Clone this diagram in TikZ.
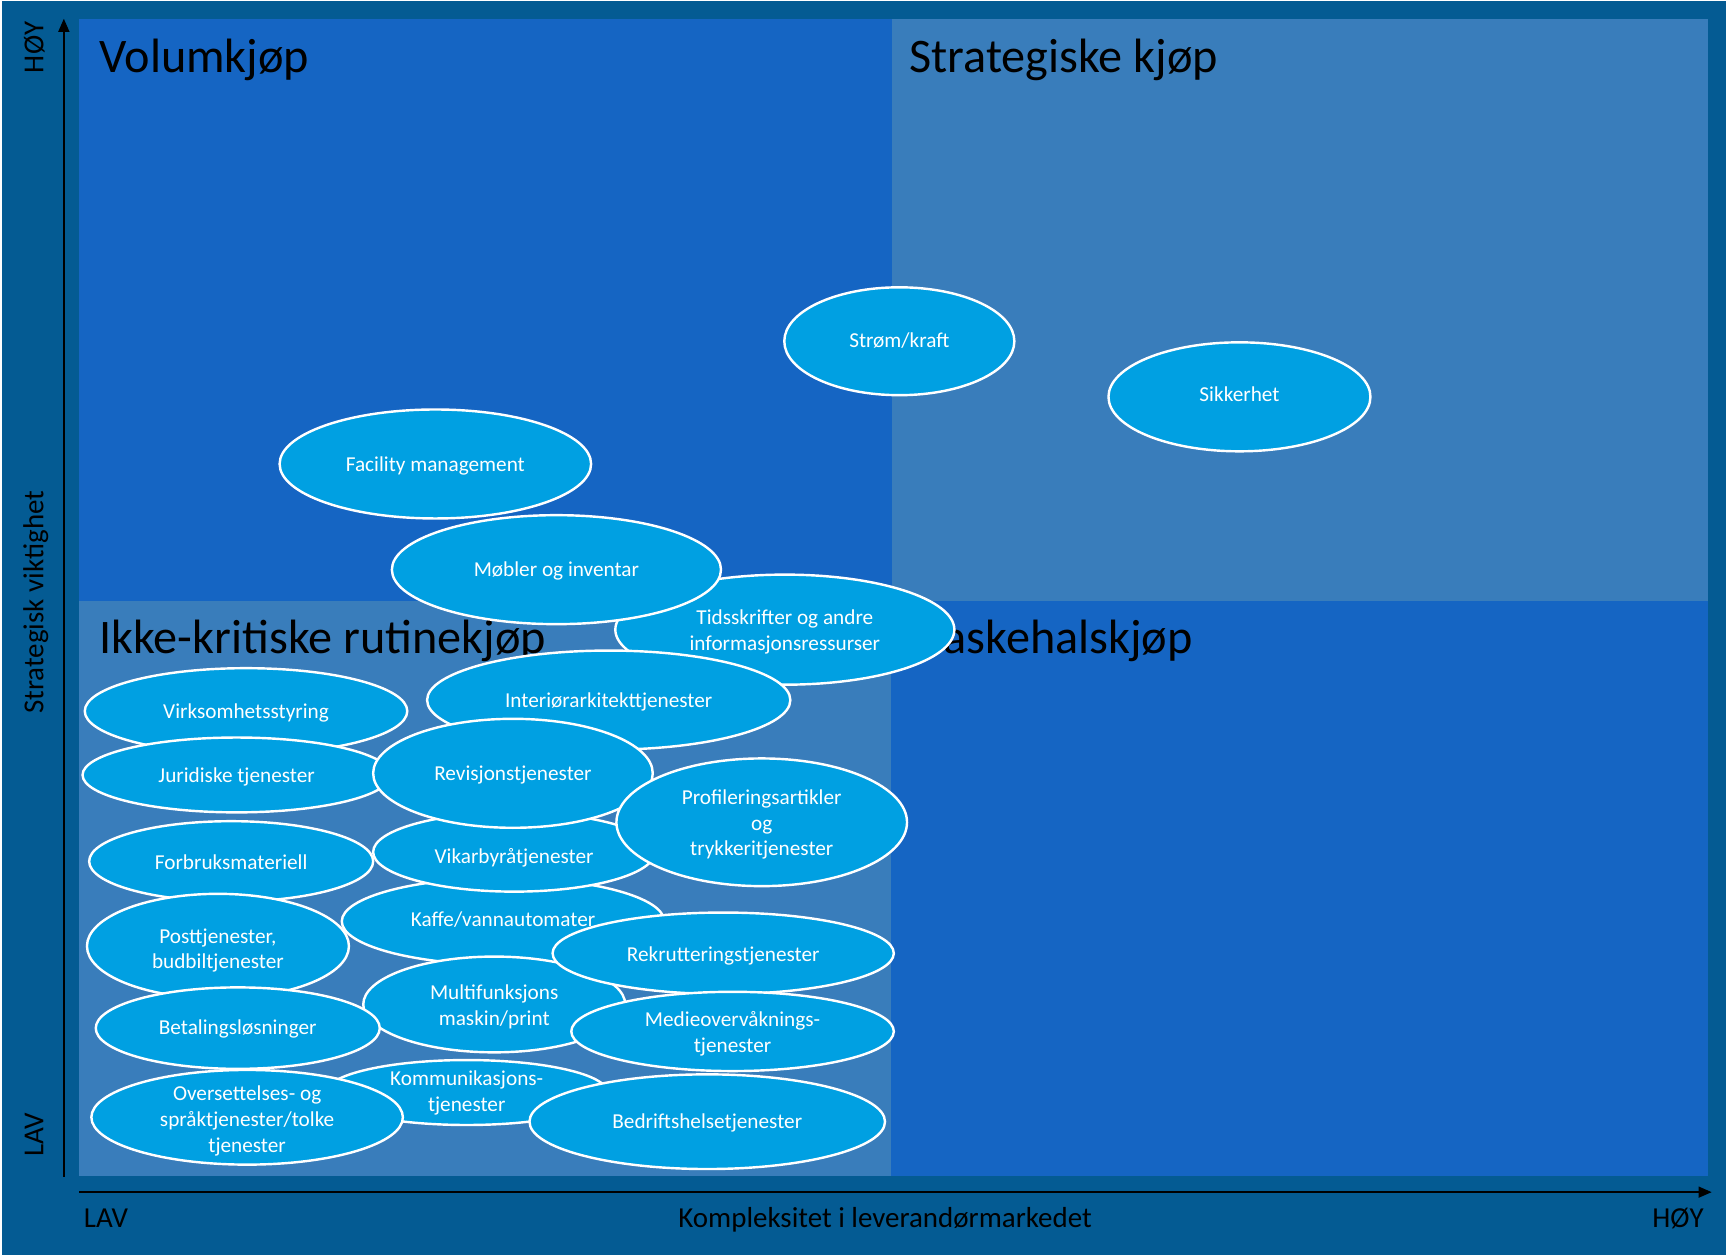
\documentclass[tikz,border=0pt]{standalone}
\usepackage{fontspec}
\setmainfont{Carlito}
\usetikzlibrary{shapes.geometric,arrows.meta}
\definecolor{bgdark}{HTML}{045B93}
\definecolor{qbright}{HTML}{1565C3}
\definecolor{qsteel}{HTML}{397DBB}
\definecolor{bubfill}{HTML}{00A0E2}
\newcommand\bub[7][2]{%
  \node[bubble, minimum width=#5pt, minimum height=#6pt] (#2) at (#3,#4) {};
  \node[btxt, yshift=-#1pt] (#2-t) at (#2.center) {#7};}
\begin{document}
\begin{tikzpicture}[x=1pt,y=-1pt,
  bubble/.style={ellipse, draw=white, line width=2.2pt, fill=bubfill, inner sep=0pt},
  btxt/.style={text=white, font=\fontsize{19.3}{23.5}\selectfont, align=center, inner sep=0pt},
  quad/.style={font=\fontsize{43.8}{50}\selectfont, anchor=base west, inner sep=0pt, text=black},
  axl/.style={font=\fontsize{26.3}{30}\selectfont, inner sep=0pt, text=black, anchor=base},
  axis/.style={line width=1.5pt, black, -{Triangle[length=12pt,width=10pt]}}]

\fill[bgdark] (0,0) rectangle (1568,1139);
\draw[white, line width=2pt] (1,0) -- (1,1139);
\useasboundingbox (0,0) rectangle (1568,1139);

% quadrants
\fill[qbright] (72,16) rectangle (810,545);
\fill[qsteel] (810,16) rectangle (1552,545);
\fill[qsteel] (72,545) rectangle (809,1067);
\fill[qbright] (809,545) rectangle (1552,1067);

% quadrant titles
\node[quad] (tvol) at (90,65) {Volumkjøp};
\node[quad] (tstr) at (826,65) {Strategiske kjøp};
\node[quad] (tikk) at (90,593) {Ikke-kritiske rutinekjøp};
\node[quad] (tfla) at (827,593) {Flaskehalskjøp};

% axes
\coordinate (yb) at (58,1068);
\coordinate (yt) at (58,16);
\coordinate (xb) at (72,1082);
\coordinate (xt) at (1555,1082);
\draw[axis] (yb) -- (yt);
\draw[axis] (xb) -- (xt);

\node[axl, rotate=90] (yh) at (39.5,42) {HØY};
\node[axl, rotate=90] (ym) at (39.5,546) {Strategisk viktighet};
\node[axl, rotate=90] (yl) at (39.5,1030) {LAV};
\node[axl, anchor=base west] (xl) at (76,1114) {LAV};
\node[axl] (xm) at (804,1114) {Kompleksitet i leverandørmarkedet};
\node[axl, anchor=base east] (xh) at (1548,1114) {HØY};

% bubbles
\bub[-1]{strom}{817}{309}{209}{98}{Strøm/kraft}
\bub[-2]{sikk}{1126}{359.5}{238}{99}{Sikkerhet}
\bub{facil}{395.5}{420.5}{283}{99}{Facility management}
\bub{tids}{713}{571}{308}{100}{Tidsskrifter og andre\\informasjonsressurser}
\bub[1]{mobler}{505.5}{516.5}{299}{99}{Møbler og inventar}
\bub{virk}{223.5}{645}{293}{78}{Virksomhetsstyring}
\bub{jur}{215}{703}{280}{68}{Juridiske tjenester}
\bub{inter}{553}{635}{330}{90}{Interiørarkitekttjenester}
\bub[-2]{kaffe}{457}{836}{293}{79}{Kaffe/vannautomater}
\bub[5]{vikar}{467}{773}{256}{72}{Vikarbyråtjenester}
\bub{rev}{466}{701.5}{254}{99}{Revisjonstjenester}
\bub{prof}{692}{746}{264}{116}{Profileringsartikler\\og\\trykkeritjenester}
\bub[1]{forb}{210}{781.5}{258}{73}{Forbruksmateriell}
\bub[4]{post}{198}{858.5}{238}{95}{Posttjenester,\\budbiltjenester}
\bub[2.5]{multi}{449}{911.5}{238}{87}{Multifunksjons\\maskin/print}
\bub{rekr}{657}{865}{310}{74}{Rekrutteringstjenester}
\bub[2.5]{medie}{665.5}{936}{293}{72}{Medieovervåknings-\\tjenester}
\bub[1]{betal}{216}{933}{258}{74}{Betalingsløsninger}
\bub[0]{komm}{424}{991.5}{256}{59}{Kommunikasjons-\\tjenester}
\bub[3]{overs}{224.5}{1014}{283}{86}{Oversettelses- og\\språktjenester/tolke\\tjenester}
\bub[1]{bedr}{642.5}{1018}{323}{86}{Bedriftshelsetjenester}
\end{tikzpicture}
\end{document}
